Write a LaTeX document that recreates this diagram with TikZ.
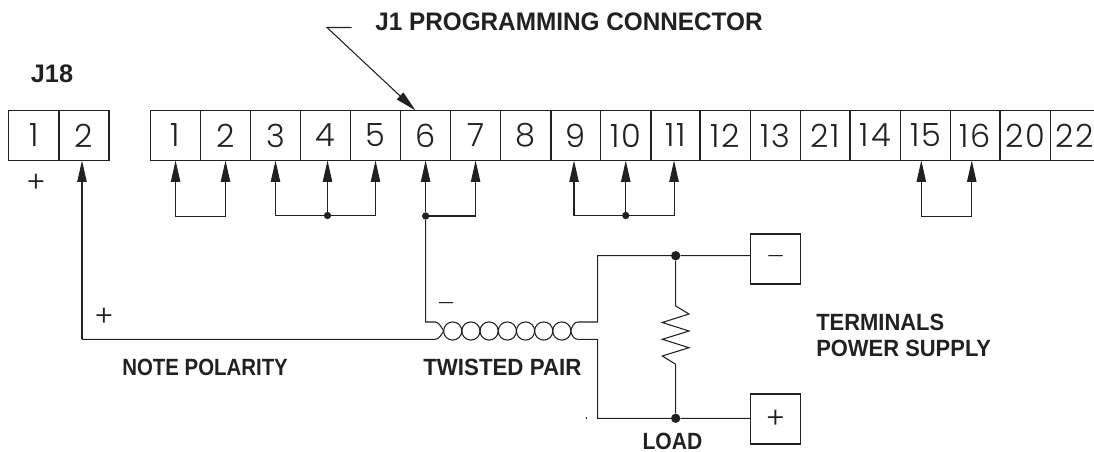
\documentclass[tikz,border=0pt]{standalone}
\usepackage{fontspec}
\setmainfont{Liberation Sans}
\newfontfamily\pinfont[UprightFont=* Light,LetterSpace=6]{Poppins}
\newfontfamily\dashfont[UprightFont=* Light]{Poppins}
\usetikzlibrary{arrows.meta}
\definecolor{ink}{gray}{0.13}
\newcommand{\squeeze}[1]{\addfontfeature{FakeStretch=#1}}
\tikzset{
 wire/.style={draw=ink,line width=0.8pt},
 tipped/.style={wire,-{Triangle[length=16pt,width=7pt]}},
 tipboth/.style={wire,{Triangle[length=16pt,width=7pt]}-{Triangle[length=16pt,width=7pt]}},
 pin/.style={draw=ink,line width=0.8pt,outer sep=0pt,inner sep=0pt,minimum height=37.5pt,font=\fontsize{24}{24}\selectfont\pinfont,text=ink},
 openpin/.style={outer sep=0pt,inner sep=0pt,minimum height=37.5pt,font=\fontsize{24}{24}\selectfont\pinfont,text=ink},
 term/.style={pin,minimum width=37.8pt},
 lbl/.style={font=\fontsize{17.6}{18}\selectfont\bfseries,inner sep=0pt,align=left,text=ink},
 biglbl/.style={lbl,font=\fontsize{19}{19}\selectfont\bfseries},
 sign/.style={font=\fontsize{22}{22}\selectfont\dashfont,inner sep=0pt,text=ink},
 dashsign/.style={font=\fontsize{15}{15}\selectfont\dashfont,inner sep=0pt,text=ink},
 joint/.style={circle,fill=ink,inner sep=0pt,minimum size=5.5pt},
}
\begin{document}
\begin{tikzpicture}[x=0.75pt,y=-0.75pt]
\useasboundingbox (0,0) rectangle (1094,452);
% J18
\foreach \n/\t/\l/\r in {a1/1/8.5/59,a2/2/59/109}{
  \node[pin,minimum width={(\r-\l)*0.75pt}] (\n) at ({(\l+\r)/2},135.5) {\t};}
% J1
\foreach \n/\t/\l/\r in {b1/1/150.5/200.7,b2/2/200.7/250.3,b3/3/250.3/300.7,b4/4/300.7/350.3,b5/5/350.3/400.7,b6/6/400.7/450.5,b7/7/450.5/500.7,b8/8/500.7/551,b9/9/551/600.5,b10/10/600.5/651,b11/11/651/700,b12/12/700/750.5,b13/13/750.5/800.7,b21/21/800.7/850,b14/14/850/900.7,b15/15/900.7/950.7,b16/16/950.7/1000,b20/20/1000/1050.5}{
  \node[pin,minimum width={(\r-\l)*0.75pt}] (\n) at ({(\l+\r)/2},135.5) {\t};}
\node[openpin,minimum width=37.5pt] (b22) at (1075,135.5) {22};
\coordinate (edgeT) at (1094,110.5);
\coordinate (edgeB) at (1094,160.5);
\draw[wire] (b20.north east) -- (edgeT);
\draw[wire] (b20.south east) -- (edgeB);
% labels
\node[biglbl,anchor=west] (j1lab) at (375,22) {\squeeze{0.96}J1 PROGRAMMING CONNECTOR};
\node[biglbl] (j18lab) at (52,74) {J18};
\node[lbl,anchor=west] (note) at (122,367) {\squeeze{0.87}NOTE POLARITY};
\node[lbl,anchor=west] (tp) at (423,367) {\squeeze{0.95}TWISTED PAIR};
\node[lbl,anchor=north west] (tps) at (816,314) {\squeeze{0.935}TERMINALS\\[1.5pt]\squeeze{0.935}POWER SUPPLY};
\node[lbl] (load) at (672.5,441) {\squeeze{0.9}LOAD};
\node[sign] (pj) at (36,183) {+};
\node[sign] (pw) at (104,317) {+};
\node[dashsign] (mw) at (446,306) {—};
% leader
\coordinate (lead1) at (351.7,27.5);
\coordinate (lead2) at (327,27.5);
\draw[tipped] (lead1) -- (lead2) -- ([xshift=-7.5pt]b6.north);
% jumpers
\coordinate (a2p) at ([xshift=-1.5pt]a2.south);
\coordinate (p4) at ([xshift=1.5pt]b4.south);
\coordinate (p9) at ([xshift=-1.3pt]b9.south);
\coordinate (p11) at ([xshift=-1.1pt]b11.south);
\coordinate (p15) at ([xshift=-3.3pt]b15.south);
\coordinate (p16) at ([xshift=-2.7pt]b16.south);
\draw[tipboth] (b1.south) -- ++(0,56) -| (b2.south);
\draw[tipboth] (b3.south) -- ++(0,55) -| (b5.south);
\node[joint] (j4) at (p4 |- 0,215.5) {};
\draw[tipped] (j4) -- (p4);
\draw[tipboth] (p9) -- ++(0,55) -| (p11);
\node[joint] (j10) at (b10.south |- 0,215.5) {};
\draw[tipped] (j10) -- (b10.south);
\draw[tipboth] (p15) -- ++(0,56) -| (p16);
\node[joint] (j6) at (b6.south |- 0,216) {};
\draw[tipped] (j6) -- (b6.south);
\draw[tipped] (j6.center) -- (b7.south |- j6) -- (b7.south);
% twisted pair
\coordinate (tl) at (443.7,331);
\coordinate (tr) at (570.7,331);
\draw[wire] (j6) -- (b6.south |- 0,322) -- (435,322) .. controls (439,322) and (441,327) .. (tl);
\draw[tipped] (a2p |- 0,339.3) -- (a2p);
\draw[wire] (a2p |- 0,339.3) -- (435,339.3) .. controls (439,339.3) and (441,335) .. (tl);
\foreach \x in {452.7,470.9,489.1,507.3,525.5,543.7,561.8}{
  \draw[wire] (\x,331) circle[radius=9.1];}
% supply side
\node[term] (minus) at (775.5,259) {};
\node[term] (plus) at (775.5,419) {};
\node[dashsign] (msign) at (minus.center) {—};
\node[sign] (psign) at (plus.center) {+};
\node[joint,minimum size=7pt] (jt) at (675.7,255.7) {};
\node[joint,minimum size=7pt] (jb) at (675.7,418.3) {};
\draw[wire] (tr) .. controls (572,326) and (574,322) .. (578,322) -- (597.7,322) -- (597.7,255.7) -- (jt) -- (minus.west |- jt);
\draw[wire] (tr) .. controls (572,336) and (574,339.3) .. (578,339.3) -- (597.7,339.3) -- (597.7,418.3) -- (jb) -- (plus.west |- jb);
\draw[wire] (jt) -- (675.7,306) -- (689,314) -- (662.3,322.5) -- (689,331) -- (662.3,339.3) -- (689,347.7) -- (662.3,356) -- (675.7,364.3) -- (jb);
\fill[ink] (585.5,416.5) rectangle (586.5,419);
\end{tikzpicture}
\end{document}
